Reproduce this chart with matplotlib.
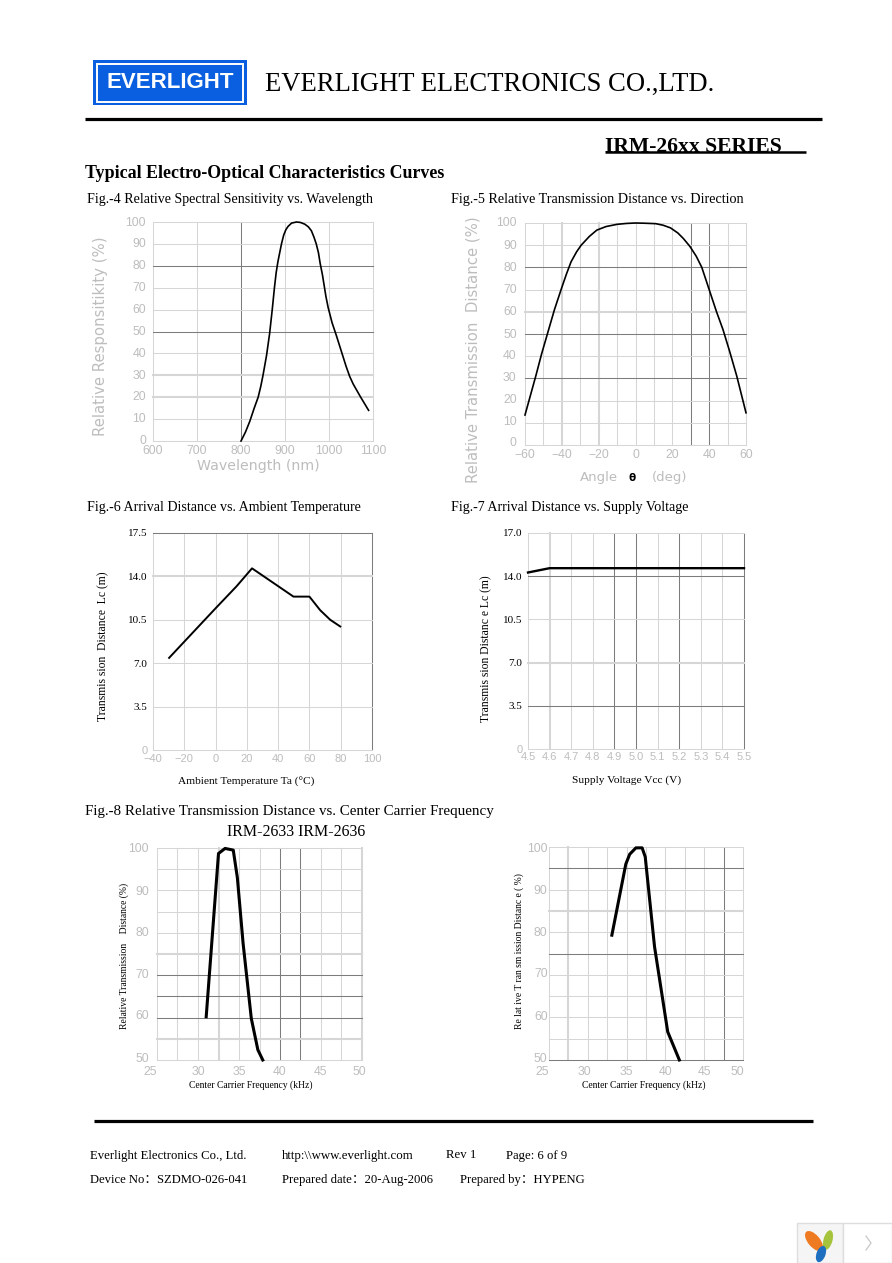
import matplotlib
matplotlib.use("Agg")
import matplotlib.pyplot as plt
from matplotlib.patches import Rectangle, Ellipse
from matplotlib.transforms import ScaledTranslation

W, H = 892, 1263
SERIF = ['Liberation Serif', 'Noto Sans CJK SC', 'DejaVu Sans']
GREY = '#bdbdbd'
LIGHT = '#d6d6d6'
DARK = '#7c7c7c'

# Fig.-4
wave_nm = [800, 810, 820, 830, 839, 845, 850, 858, 865, 871, 876, 880, 884, 888, 892, 897, 902, 907, 915, 926, 935, 945, 953, 960, 966, 971, 976, 980, 985, 989, 993, 998, 1007, 1017, 1028, 1039, 1047, 1055, 1072, 1090]
wave_resp = [0, 4, 9, 15, 20, 25, 30, 39, 49, 60, 70, 77, 82, 86, 90, 94, 96.5, 98, 99.5, 100, 99.8, 99, 97.8, 96, 93, 90, 86, 81, 76, 71, 66, 61, 54, 48, 41, 34, 29.5, 26, 20, 14]
# Fig.-5
angle_deg = [-60, -57, -54, -51, -47.5, -44, -40, -37.5, -35, -32, -29.5, -25, -21, -16, -10, -5, 0, 5, 11, 15, 19, 23, 26, 29.5, 33, 36, 38, 40, 44, 47.5, 51, 55, 60]
angle_dist = [13.5, 22.5, 31.5, 41, 51, 61, 71, 77, 82.5, 87, 90, 94, 96.8, 98.4, 99.4, 99.8, 100, 99.9, 99.7, 99, 97.8, 95.5, 93, 89.5, 85, 80, 75, 70, 60, 52, 42.5, 31, 14.5]
# Fig.-6
temp_c = [-29.7, -0.2, 13.4, 23.3, 49.8, 60, 66.9, 73.3, 79.7]
temp_dist = [7.43, 11.4, 13.2, 14.65, 12.37, 12.37, 11.27, 10.5, 9.96]
# Fig.-7
volt_v = [4.5, 4.6, 5.5]
volt_dist = [14.3, 14.65, 14.65]
# Fig.-8
freq_a = [31, 32.5, 33.3, 34.3, 34.8, 35.5, 36.5, 37.3, 37.9]
rel_a = [60.2, 98.7, 99.9, 99.5, 93, 77.5, 59.8, 52.4, 50]
freq_b = [33.1, 34.9, 35.4, 36.2, 37, 37.4, 38.6, 40.3, 41.8]
rel_b = [79.3, 96, 98.3, 99.8, 99.8, 97.7, 76.6, 56.6, 50]

# tick labels
wave_ticks = [600, 700, 800, 900, 1000, 1100]
pct_ticks = [0, 10, 20, 30, 40, 50, 60, 70, 80, 90, 100]
angle_ticks = [-60, -40, -20, 0, 20, 40, 60]
temp_ticks = [-40, -20, 0, 20, 40, 60, 80, 100]
volt_ticks = [4.5, 4.6, 4.7, 4.8, 4.9, 5.0, 5.1, 5.2, 5.3, 5.4, 5.5]
dist_ticks = [0, 3.5, 7, 10.5, 14, 17.5]
dist_labels_a = ['0', '3.5', '7.0', '10.5', '14.0', '17.5']
dist_labels_b = ['0', '3.5', '7.0', '10.5', '14.0', '17.0']
freq_ticks = [25, 30, 35, 40, 45, 50]
rel_ticks = [50, 60, 70, 80, 90, 100]

fig = plt.figure(figsize=(W / 100, H / 100), dpi=100, facecolor='white')
page = fig.add_axes([0, 0, 1, 1])
page.set_xlim(0, W)
page.set_ylim(H, 0)
page.axis('off')


def put(x, y, s, size=10.1, color='black', ha='left', va='center', rot=0, weight='normal', family=SERIF):
    page.text(x, y, s, fontsize=size, color=color, ha=ha, va=va, rotation=rot, fontweight=weight, family=family)


def panel(box, xlim, ylim, xgrid, ygrid, xdark, ydark, xthick, ythick, xt, yt, ylab=None, ylab_dark=False, curve=None, lw=1.2, xshift=None, yshift=None, tick_size=8.8, xpad=4, ypad=4):
    left, right, top, bottom = box
    ax = fig.add_axes([left / W, 1 - bottom / H, (right - left) / W, (bottom - top) / H])
    ax.set_xlim(*xlim)
    ax.set_ylim(*ylim)
    for s in ax.spines.values():
        s.set_visible(False)
    for v in xgrid:
        c = DARK if v in xdark else LIGHT
        ax.axvline(v, color=c, lw=1.5 if v in xthick else 0.75, clip_on=False, zorder=1)
    for v in ygrid:
        c = DARK if v in ydark else LIGHT
        ax.axhline(v, color=c, lw=1.5 if v in ythick else 0.75, clip_on=False, zorder=1)
    ax.plot(curve[0], curve[1], color='black', lw=lw, zorder=3, clip_on=False, solid_joinstyle='round')
    ax.set_xticks(xt)
    ax.set_yticks(yt)
    ax.set_xticklabels([str(v).replace('-', '\u2212') for v in xt], fontsize=tick_size, color=GREY, family='Liberation Sans')
    ax.set_yticklabels(ylab if ylab else [str(v) for v in yt], fontsize=tick_size, color=GREY, family='Liberation Sans')
    ax.tick_params(axis='x', length=0, pad=xpad)
    ax.tick_params(axis='y', length=0, pad=ypad)
    if ylab_dark:
        for t in ax.get_yticklabels()[1:]:
            t.set_color('black')
            t.set_fontfamily(SERIF)
            t.set_fontsize(8)
    # the scanned labels do not sit exactly on their grid lines
    if xshift:
        for t, d in zip(ax.get_xticklabels(), xshift):
            t.set_transform(t.get_transform() + ScaledTranslation(d / 100, 0, fig.dpi_scale_trans))
    if yshift:
        for t, d in zip(ax.get_yticklabels(), yshift):
            t.set_transform(t.get_transform() + ScaledTranslation(0, d / 100, fig.dpi_scale_trans))
    return ax


# header
page.add_patch(Rectangle((93, 60), 154, 45, fc='#0a5fe0', ec='none'))
page.add_patch(Rectangle((97, 63.5), 146, 38, fc='none', ec='white', lw=1.4))
put(170, 83, 'EVERLIGHT', size=16, color='white', ha='center', weight='bold', family=['Liberation Sans'])
put(265, 84, 'EVERLIGHT ELECTRONICS CO.,LTD.', size=19.2)
page.plot([85, 822], [118.5, 118.5], color='black', lw=2.3, solid_capstyle='butt')
put(605, 147, 'IRM-26xx SERIES', size=15.6, weight='bold')
page.plot([605, 806], [152, 152], color='black', lw=1.8, solid_capstyle='butt')
put(85, 174, 'Typical Electro-Optical Characteristics Curves', size=12.9, weight='bold')

# Fig.-4
put(87, 199, 'Fig.-4 Relative Spectral Sensitivity vs. Wavelength', size=10.05)
panel((153, 373, 222, 441), (600, 1100), (0, 100), wave_ticks, pct_ticks, [800], [50, 80], [], [20, 30],
      wave_ticks, pct_ticks, curve=(wave_nm, wave_resp), xpad=3, yshift=[2, 2, 2, 1, 1, 1, 1, 1, 1, 1, 1], ypad=5)
put(101, 336, 'Relative Responsitikity (%)', size=10.7, color=GREY, ha='center', rot=90, family=['DejaVu Sans'])
put(258, 466, 'Wavelength (nm)', size=10.2, color=GREY, ha='center', family=['DejaVu Sans'])

# Fig.-5
put(451, 200, 'Fig.-5 Relative Transmission Distance vs. Direction', size=10.2)
panel((525, 746, 223, 445), (-60, 60), (0, 100), list(range(-60, 61, 10)), pct_ticks, [30, 40], [30, 50, 80], [-40, -20], [60],
      angle_ticks, pct_ticks, curve=(angle_deg, angle_dist), yshift=[3, 2, 2, 2, 2, 1, 1, 1, 1, 1, 1], xpad=3, ypad=6)
put(473, 350, 'Relative Transmission  Distance (%)', size=10.7, color=GREY, ha='center', rot=90, family=['DejaVu Sans'])
put(580, 477, 'Angle', size=9.5, color=GREY, family=['DejaVu Sans'])
put(632, 478, 'θ', size=7.5, ha='center', family=['DejaVu Sans'], weight='bold')
put(652, 477, '(deg)', size=9.5, color=GREY, family=['DejaVu Sans'])

# Fig.-6
put(87, 507, 'Fig.-6 Arrival Distance vs. Ambient Temperature', size=10.1)
panel((153, 372, 533, 750), (-40, 100), (0, 17.5), temp_ticks, dist_ticks, [100], [17.5], [], [14],
      temp_ticks, dist_ticks, ylab=dist_labels_a, ylab_dark=True, curve=(temp_c, temp_dist), lw=1.4, tick_size=8, xpad=3)
put(103, 646, 'Transmis sion  Distance  Lc (m)', size=8.4, ha='center', rot=90)
put(246, 782, 'Ambient Temperature Ta (°C)', size=8.2, ha='center')

# Fig.-7
put(451, 507, 'Fig.-7 Arrival Distance vs. Supply Voltage', size=10.1)
panel((528, 744, 533, 749), (4.5, 5.5), (0, 17.5), volt_ticks, dist_ticks, [4.9, 5.0, 5.2, 5.5], [3.5, 14], [4.6], [7],
      volt_ticks, dist_ticks, ylab=dist_labels_b, ylab_dark=True, curve=(volt_v, volt_dist), lw=1.7, tick_size=8, xpad=2)
put(486, 649, 'Transmis sion Distanc e Lc (m)', size=8.4, ha='center', rot=90)
put(627, 780, 'Supply Voltage Vcc (V)', size=8.2, ha='center')

# Fig.-8
put(85, 811, 'Fig.-8 Relative Transmission Distance vs. Center Carrier Frequency', size=10.8)
put(296, 832, 'IRM-2633 IRM-2636', size=11.5, ha='center')
grid_f = [25, 27.5, 30, 32.5, 35, 37.5, 40, 42.5, 45, 47.5, 50]
grid_r = [50, 55, 60, 65, 70, 75, 80, 85, 90, 95, 100]
panel((157, 362, 848, 1060), (25, 50), (50, 100), grid_f, grid_r, [40, 42.5], [60, 65, 70], [32.5, 50], [55, 75],
      freq_ticks, rel_ticks, curve=(freq_a, rel_a), lw=2.2, xshift=[-7, 0, 0, 0, 0, -3], yshift=[3, 3, 2, 1, 0, 0], tick_size=8.8, ypad=6)
put(124, 956, 'Relative Transmission    Distance (%)', size=6.9, ha='center', rot=90)
put(251, 1085, 'Center Carrier Frequency (kHz)', size=6.9, ha='center')

panel((549, 743, 847, 1060), (25, 50), (50, 100), grid_f, grid_r, [47.5], [50, 75, 95], [27.5], [85],
      freq_ticks, rel_ticks, curve=(freq_b, rel_b), lw=2.2, xshift=[-7, -3, 0, 0, 0, -6], yshift=[2, 2, 2, 1, 0, 0], tick_size=8.8, ypad=1)
put(519, 951, 'Re lat ive T ran sm ission Distanc e ( %)', size=6.9, ha='center', rot=90)
put(644, 1085, 'Center Carrier Frequency (kHz)', size=6.9, ha='center')

# footer
page.plot([94, 813], [1121, 1121], color='black', lw=2.3, solid_capstyle='butt')
put(90, 1155.5, 'Everlight Electronics Co., Ltd.', size=9.2)
put(282, 1155.5, 'http:\\\\www.everlight.com', size=9.3)
put(446, 1155.5, 'Rev 1', size=9.2)
put(506, 1155.5, 'Page: 6 of 9', size=9.2)
put(90, 1180, 'Device No：SZDMO-026-041', size=9.1)
put(282, 1180, 'Prepared date：20-Aug-2006', size=9.2)
put(460, 1180, 'Prepared by：HYPENG', size=9.1)

# corner widget
page.add_patch(Rectangle((797, 1223), 46, 40, fc='#f5f5f5', ec='#dddddd', lw=1))
page.add_patch(Rectangle((843, 1223), 49, 40, fc='white', ec='#dddddd', lw=1))
page.add_patch(Ellipse((814, 1241), 12, 24, angle=-40, fc='#ee7a22', ec='none'))
page.add_patch(Ellipse((828, 1240), 9, 20, angle=15, fc='#a5c43c', ec='none'))
page.add_patch(Ellipse((821, 1254), 9, 17, angle=20, fc='#1f6fc0', ec='none'))
page.plot([866, 871, 866], [1236, 1243, 1250], color='#c8c8c8', lw=0.9)
page.set_xlim(0, W)
page.set_ylim(H, 0)

fig.savefig('out.png', dpi=100)
